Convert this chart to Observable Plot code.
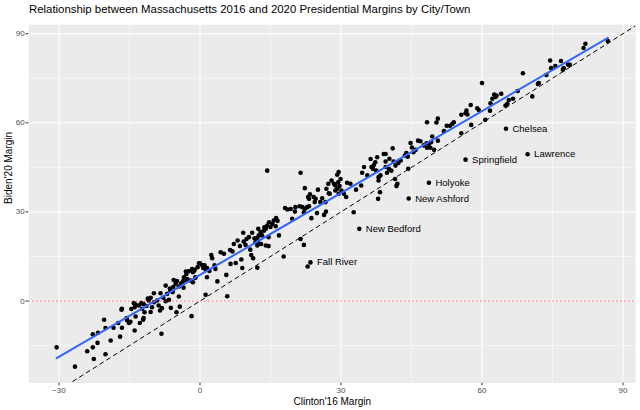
<!DOCTYPE html>
<html><head><meta charset="utf-8">
<script src="https://cdn.jsdelivr.net/npm/d3@7"></script>
<script src="https://cdn.jsdelivr.net/npm/@observablehq/plot@0.6"></script>
<style>
body{margin:0;background:#fff;font-family:"Liberation Sans",Arial,sans-serif;}
#title{box-sizing:border-box;height:20px;padding-left:29px;padding-top:3px;font-size:11.4px;line-height:12px;color:#000;white-space:nowrap;}
</style></head><body>
<div id="title">Relationship between Massachusetts 2016 and 2020 Presidential Margins by City/Town</div>
<div id="chart"></div>
<script>
// Clinton 2016 margin (x) and Biden 2020 margin (y) per city/town
const clinton16 = [
-30.5,-26.6,-24.0,-22.8,-22.6,-22.8,-21.8,-21.7,-20.4,-20.1,-20.1,-19.0,-18.4,-17.4,-17.0,-16.6,-16.7,
-16.6,-15.6,-14.1,-13.7,-13.9,-13.0,-12.5,-12.3,-12.0,-11.8,-10.9,-10.5,-10.2,-9.8,-9.8,-9.1,-8.8,-8.5,-8.4,-7.8,-7.3,-7.3,-7.0,-6.6,-6.3,-5.7,-5.6,-5.2,-4.9,-4.5,-4.5,-4.0,-3.6,-3.1,-3.4,-2.9,-2.4,-2.0,-1.5,-1.2,-1.0,-0.5,-0.2,-4.3,-1.8,-5.0,-13.7,-12.0,
-15.5,-15.1,-14.8,-13.9,-12.8,-12.1,-8.2,-14.6,-11.4,-10.5,-8.1,-6.2,-3.5,-3.0,-2.7,-6.4,-5.8,-11.1,
-1.7,-1.2,-0.96,-1.5,0.0,0.5,0.7,0.96,1.2,1.5,1.5,2.4,2.6,3.1,3.3,3.7,4.4,5.1,5.6,6.4,6.5,6.9,7.2,7.6,8.0,8.5,8.8,9.0,9.2,9.3,9.7,9.9,10.4,10.7,10.9,11.3,11.1,11.6,11.8,12.2,1.2,5.8,13.0,13.7,12.4,2.0,
14.3,21.4,22.3,23.0,23.2,25.1,26.9,27.3,27.6,28.0,28.5,28.8,28.8,24.2,24.6,24.4,25.6,26.0,26.7,26.8,26.4,23.7,18.1,18.6,19.3,20.3,21.2,21.8,22.3,22.8,23.2,20.2,22.1,19.6,16.2,15.7,15.4,14.7,14.3,15.0,16.1,16.5,14.0,13.6,12.9,12.5,12.2,13.2,14.6,12.4,14.0,16.8,21.4,22.1,12.2,14.6,17.8,22.9,24.9,23.4,27.4,
29.2,29.5,29.9,29.4,29.7,29.2,30.1,29.5,30.6,31.1,31.3,33.2,34.5,34.9,36.3,36.5,36.8,37.0,37.3,37.7,37.5,38.0,38.3,37.9,39.1,39.5,39.5,39.5,39.8,40.3,40.2,41.0,41.2,41.6,42.2,41.5,42.0,41.8,43.6,43.9,44.3,44.8,45.1,45.9,46.4,
48.3,46.9,47.6,48.2,48.7,48.3,32.7,34.3,35.6,38.4,38.0,42.7,44.2,45.4,40.7,32.0,
60.0,68.7,70.7,67.6,66.6,65.7,65.4,65.0,64.1,63.1,62.6,62.9,62.2,61.8,61.7,60.7,59.0,59.3,57.6,56.7,56.5,56.9,55.6,57.7,55.6,54.0,53.7,53.2,52.5,51.9,50.6,50.3,50.6,49.4,49.2,49.8,49.0,
71.9,72.1,73.7,74.5,74.7,75.6,76.8,77.2,77.4,78.3,78.7,81.6,82.0,86.8
];
const biden20 = [
-15.6,-22.1,-16.9,-15.6,-19.5,-11.2,-14.1,-10.7,-6.3,-9.1,-17.9,-13.3,-9.0,-7.4,-12.0,-9.0,-2.9,
-2.6,-5.7,-0.7,-1.2,-2.1,-1.5,-0.7,-2.6,-1.0,-3.8,0.2,1.1,-2.1,2.6,-0.4,0.2,-1.5,-3.2,2.6,1.1,5.2,-0.1,2.4,0.4,3.5,4.7,7.1,5.8,6.7,4.9,1.5,6.0,6.7,7.1,8.0,9.1,10.0,6.9,9.7,10.3,7.8,11.4,12.7,-1.9,-5.1,-3.8,-5.2,-5.7,
-6.5,-7.4,-7.0,-9.9,-7.4,-6.3,-11.0,-2.7,-1.7,-3.7,-2.4,-2.3,4.5,9.9,7.4,4.2,3.0,0.8,
10.8,10.5,8.0,6.3,12.7,12.0,11.1,12.0,10.6,11.1,8.0,15.5,14.4,12.0,10.8,6.6,16.4,15.9,8.8,17.2,12.5,16.7,19.2,12.8,20.4,18.5,14.0,11.1,23.0,20.0,18.9,20.9,21.5,17.3,15.5,14.4,23.0,21.1,19.8,11.2,2.1,1.6,19.2,24.8,24.3,10.1,
43.9,43.2,38.0,35.0,34.4,37.5,37.8,39.5,36.1,40.6,39.5,38.9,37.2,35.0,34.4,33.3,33.3,34.6,33.3,30.1,29.0,27.9,31.3,30.8,31.0,31.6,31.9,31.6,31.0,31.6,31.9,30.1,29.9,27.7,27.9,27.1,26.0,26.5,25.4,24.9,25.2,27.0,24.3,23.7,23.2,22.1,21.2,22.1,21.5,19.8,18.7,22.1,20.9,18.9,18.7,18.5,15.0,11.6,29.6,35.9,36.3,
42.5,43.4,41.1,40.0,38.7,37.8,37.2,36.1,36.1,35.0,39.8,37.5,43.2,45.1,47.8,45.1,44.5,45.8,46.7,48.4,43.9,41.7,36.6,34.4,49.5,49.5,47.0,45.1,43.2,47.9,44.5,51.4,47.0,45.6,46.5,41.1,39.5,38.7,49.0,49.8,44.5,53.2,51.7,50.9,54.0,
60.2,53.8,52.4,53.1,52.9,51.6,29.9,38.9,42.3,42.3,40.6,47.3,48.6,50.1,43.9,39.5,
73.4,76.7,68.9,70.7,68.1,67.7,66.4,65.8,69.8,69.2,69.5,68.7,68.1,66.6,64.1,61.0,64.9,64.3,66.0,64.1,63.2,62.8,62.7,59.3,56.5,60.2,59.7,59.0,59.0,57.2,61.4,60.1,54.0,55.4,53.5,50.9,51.6,
73.1,73.4,76.1,81.0,78.4,79.1,80.8,77.9,78.4,79.6,79.5,85.2,86.6,87.5
];
// labelled towns
const labelNames = ["Chelsea","Lawrence","Springfield","Holyoke","New Ashford","New Bedford","Fall River"];
const labelClinton = [65.1,69.7,56.5,48.7,44.4,33.9,23.5];
const labelBiden = [58.0,49.4,47.6,39.8,34.5,24.3,13.0];
// ticks
const xMajor = [-30,0,30,60,90], xMinor = [-15,15,45,75];
const yMajor = [0,30,60,90], yMinor = [-15,15,45,75];
const identityEnds = [-40,100];

const pts = clinton16.map((x,i)=>({x, y: biden20[i]}));
const labs = labelNames.map((name,i)=>({name, x: labelClinton[i], y: labelBiden[i]}));
const all = pts.concat(labs);

const plot = Plot.plot({
  width: 640, height: 390,
  marginTop: 4.3, marginBottom: 27.5, marginLeft: 28.4, marginRight: 4.8,
  x: {domain: [-36.4, 92.7]},
  y: {domain: [-27.6, 93.0]},
  style: {fontFamily: "'Liberation Sans', Arial, sans-serif", background: "white", overflow: "visible"},
  marks: [
    Plot.frame({fill: "#EBEBEB", stroke: null}),
    Plot.gridX(xMinor, {stroke: "white", strokeOpacity: 1, strokeWidth: 0.55}),
    Plot.gridY(yMinor, {stroke: "white", strokeOpacity: 1, strokeWidth: 0.55}),
    Plot.gridX(xMajor, {stroke: "white", strokeOpacity: 1, strokeWidth: 1.1}),
    Plot.gridY(yMajor, {stroke: "white", strokeOpacity: 1, strokeWidth: 1.1}),
    Plot.dot(all, {x: "x", y: "y", r: 2.3, fill: "black", stroke: null}),
    Plot.linearRegressionY(all, {x: "x", y: "y", stroke: "#3366FF", strokeWidth: 2, ci: 0}),
    Plot.line(identityEnds, {x: d => d, y: d => d, stroke: "black", strokeDasharray: "4,4", strokeWidth: 1, clip: true}),
    Plot.ruleY([0], {stroke: "red", strokeDasharray: "1,3", strokeWidth: 1}),
    Plot.text(labs, {x: "x", y: "y", text: "name", dx: 6.5, textAnchor: "start", fontSize: 9.5, fill: "black"}),
    Plot.axisX(xMajor, {tickSize: 2.8, tickPadding: 1.5, fontSize: 8, fill: "#4D4D4D", stroke: "#333333", label: null}),
    Plot.axisY(yMajor, {tickSize: 2.8, tickPadding: 1.5, fontSize: 8, fill: "#4D4D4D", stroke: "#333333", label: null}),
    Plot.text(["Clinton'16 Margin"], {text: d => d, frameAnchor: "bottom", dy: 21.5, fontSize: 10, fill: "black"}),
    Plot.text(["Biden'20 Margin"], {text: d => d, frameAnchor: "left", rotate: -90, dx: -20.4, fontSize: 10, fill: "black"})
  ]
});
document.getElementById("chart").appendChild(plot);
</script>
</body></html>
